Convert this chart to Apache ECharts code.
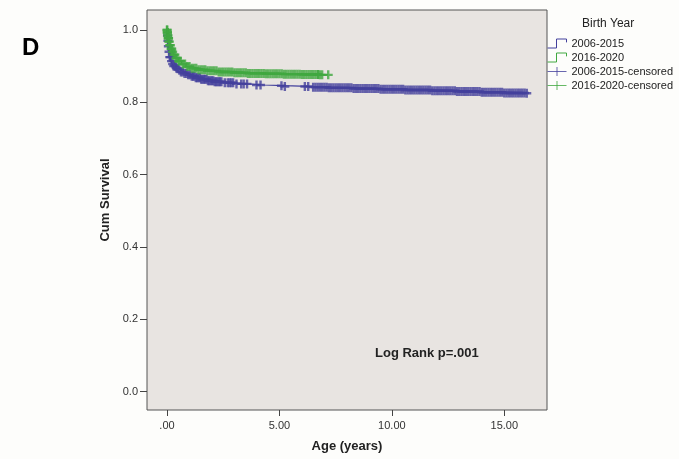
<!DOCTYPE html>
<html>
<head>
<meta charset="utf-8">
<script src="https://cdn.jsdelivr.net/npm/echarts@6/dist/echarts.min.js"></script>
<style>
html,body{margin:0;padding:0;background:#fdfdfb;}
#chart{width:679px;height:459px;}
</style>
</head>
<body>
<div id="chart"></div>
<script>
// Kaplan-Meier step curves (time in years, cumulative survival)
const blueT = [0, 0.01, 0.03, 0.05, 0.08, 0.12, 0.17, 0.23, 0.3, 0.4, 0.5, 0.62, 0.75, 0.9, 1.05, 1.25, 1.5, 1.8, 2.1, 2.5, 3.0, 3.6, 4.3, 5.2, 6.3, 7.2, 8.3, 9.5, 10.6, 11.8, 12.9, 14.0, 15.0, 16.0];
const blueS = [1.0, 0.985, 0.97, 0.955, 0.94, 0.925, 0.914, 0.906, 0.9, 0.894, 0.889, 0.884, 0.88, 0.876, 0.872, 0.868, 0.864, 0.86, 0.857, 0.854, 0.851, 0.848, 0.846, 0.844, 0.842, 0.84, 0.838, 0.836, 0.834, 0.832, 0.83, 0.828, 0.826, 0.825];
const greenT = [0, 0.01, 0.03, 0.05, 0.08, 0.12, 0.17, 0.23, 0.3, 0.4, 0.5, 0.65, 0.85, 1.1, 1.4, 1.8, 2.3, 3.0, 3.6, 4.4, 5.2, 6.0, 6.8, 7.17];
const greenS = [1.0, 0.993, 0.985, 0.977, 0.968, 0.958, 0.948, 0.94, 0.932, 0.922, 0.914, 0.906, 0.899, 0.894, 0.89, 0.887, 0.884, 0.882, 0.88, 0.879, 0.878, 0.877, 0.876, 0.876];

// Censoring times
const blueCensor = [0.02,0.04,0.06,0.09,0.12,0.16,0.2,0.25,0.3,0.36,0.42,0.48,0.55,0.62,0.7,0.78,0.86,0.94,1.02,1.1,
  1.16,1.22,1.28,1.34,1.4,1.46,1.52,1.58,1.64,1.7,1.76,1.82,1.88,1.94,2.0,2.06,2.12,2.18,2.24,2.3,2.36,2.42,
  2.57,2.7,2.78,2.85,2.94,3.09,3.3,3.41,3.56,3.98,4.16,5.09,5.24,6.13,6.28,
  6.5,6.6,6.7,6.8,6.9,7.0,7.1,7.2,7.3,7.4,7.5,7.6,7.7,7.8,7.9,8.0,8.1,8.2,8.3,8.4,8.5,8.6,8.7,8.8,8.9,
  9.0,9.1,9.2,9.3,9.4,9.5,9.6,9.7,9.8,9.9,10.0,10.1,10.2,10.3,10.4,10.5,10.6,10.7,10.8,10.9,
  11.0,11.1,11.2,11.3,11.4,11.5,11.6,11.7,11.8,11.9,12.0,12.1,12.2,12.3,12.4,12.5,12.6,12.7,12.8,12.9,
  13.0,13.1,13.2,13.3,13.4,13.5,13.6,13.7,13.8,13.9,14.0,14.1,14.2,14.3,14.4,14.5,14.6,14.7,14.8,14.9,
  15.0,15.1,15.2,15.3,15.4,15.5,15.6,15.7,15.8,15.9,16.0];
const greenCensor = [0,0.005,0.01,0.015,0.02,0.03,0.04,0.05,0.06,0.07,0.08,0.1,0.12,0.15,0.18,0.21,0.25,0.3,0.35,0.4,
  0.46,0.52,0.6,0.7,0.8,0.9,1.0,1.1,1.2,1.3,1.4,
  1.5,1.6,1.7,1.8,1.9,2.0,2.1,2.2,2.3,2.4,2.5,2.6,2.7,2.8,2.9,3.0,3.1,3.2,3.3,3.4,3.5,3.6,3.7,3.8,3.9,
  4.0,4.1,4.2,4.3,4.4,4.5,4.6,4.7,4.8,4.9,5.0,5.1,5.2,5.3,5.4,5.5,5.6,5.7,5.8,5.9,6.0,6.1,6.2,6.3,6.4,6.5,6.6,6.7,
  6.72,6.8,6.9,7.17];

const xTicks = [0, 5, 10, 15];
const yTicks = [0, 0.2, 0.4, 0.6, 0.8, 1.0];
const seriesNames = ['2006-2015', '2016-2020', '2006-2015-censored', '2016-2020-censored'];

const BLUE = '#43409c';
const GREEN = '#40a840';

function survAt(T, S, t) {
  let v = S[0];
  for (let i = 0; i < T.length; i++) { if (T[i] <= t) v = S[i]; }
  return v;
}
const zip = (T, S) => T.map((t, i) => [t, S[i]]);

const plus = 'path://M5,0L5,10M0,5L10,5';
const stepIcon = 'path://M0,9L9,9L9,1L19,1L19,4';
const crossIcon = 'path://M10,0L10,10M0,5L20,5';
const font = 'Liberation Sans, Arial, sans-serif';

const chart = echarts.init(document.getElementById('chart'));
chart.setOption({
  backgroundColor: '#fdfdfb',
  animation: false,
  title: [
    { text: 'D', left: 22, top: 36, padding: 0, textStyle: { fontSize: 24, fontWeight: 'bold', color: '#000', fontFamily: font } },
    { text: 'Birth Year', left: 582, top: 18, padding: 0, textStyle: { fontSize: 12, fontWeight: 'normal', color: '#222', fontFamily: font } },
    { text: 'Log Rank p=.001', left: 375, top: 347, padding: 0, textStyle: { fontSize: 13, fontWeight: 'bold', color: '#222', fontFamily: font } }
  ],
  legend: {
    orient: 'vertical',
    left: 547,
    top: 37,
    padding: 0,
    itemWidth: 19,
    itemHeight: 9,
    itemGap: 1,
    symbolKeepAspect: false,
    selectedMode: false,
    textStyle: { fontSize: 11, color: '#222', fontFamily: font, lineHeight: 13 },
    data: [
      { name: seriesNames[0], icon: stepIcon, itemStyle: { color: 'transparent', borderColor: BLUE, borderWidth: 1 } },
      { name: seriesNames[1], icon: stepIcon, itemStyle: { color: 'transparent', borderColor: GREEN, borderWidth: 1 } },
      { name: seriesNames[2], icon: crossIcon, itemStyle: { color: 'transparent', borderColor: BLUE, borderWidth: 1 } },
      { name: seriesNames[3], icon: crossIcon, itemStyle: { color: 'transparent', borderColor: GREEN, borderWidth: 1 } }
    ]
  },
  grid: {
    left: 147, right: 132, top: 10, bottom: 49,
    show: true, backgroundColor: '#e8e4e1', borderColor: '#555', borderWidth: 1,
    containLabel: false
  },
  xAxis: {
    type: 'value', min: -0.89, max: 16.9,
    name: 'Age (years)', nameLocation: 'middle', nameGap: 30,
    nameTextStyle: { fontSize: 13, fontWeight: 'bold', color: '#222', fontFamily: font },
    axisLine: { show: false, onZero: false },
    splitLine: { show: false },
    axisTick: { show: true, length: 6, customValues: xTicks, lineStyle: { color: '#444' } },
    axisLabel: { customValues: xTicks, margin: 10, fontSize: 11, color: '#333', fontFamily: font,
      formatter: v => v === 0 ? '.00' : v.toFixed(2) }
  },
  yAxis: {
    type: 'value', min: -0.0506, max: 1.0553,
    name: 'Cum Survival', nameLocation: 'middle', nameGap: 31,
    nameTextStyle: { fontSize: 13, fontWeight: 'bold', color: '#222', fontFamily: font, padding: [0, 0, 0, 20] },
    axisLine: { show: false, onZero: false },
    splitLine: { show: false },
    axisTick: { show: true, length: 7, customValues: yTicks, lineStyle: { color: '#444' } },
    axisLabel: { customValues: yTicks, margin: 9, fontSize: 11, color: '#333', fontFamily: font,
      formatter: v => v.toFixed(1) }
  },
  series: [
    { name: seriesNames[0], type: 'line', step: 'end', showSymbol: false, data: zip(blueT, blueS),
      lineStyle: { color: BLUE, width: 1.2 }, itemStyle: { color: BLUE }, z: 2 },
    { name: seriesNames[1], type: 'line', step: 'end', showSymbol: false, data: zip(greenT, greenS),
      lineStyle: { color: GREEN, width: 1.2 }, itemStyle: { color: GREEN }, z: 2 },
    { name: seriesNames[2], type: 'scatter', symbol: plus, symbolSize: 9,
      data: blueCensor.map(t => [t, survAt(blueT, blueS, t)]),
      itemStyle: { color: 'transparent', borderColor: BLUE, borderWidth: 2.4 }, z: 3 },
    { name: seriesNames[3], type: 'scatter', symbol: plus, symbolSize: 9,
      data: greenCensor.map(t => [t, survAt(greenT, greenS, t)]),
      itemStyle: { color: 'transparent', borderColor: GREEN, borderWidth: 2.4 }, z: 4 }
  ]
});
</script>
</body>
</html>
